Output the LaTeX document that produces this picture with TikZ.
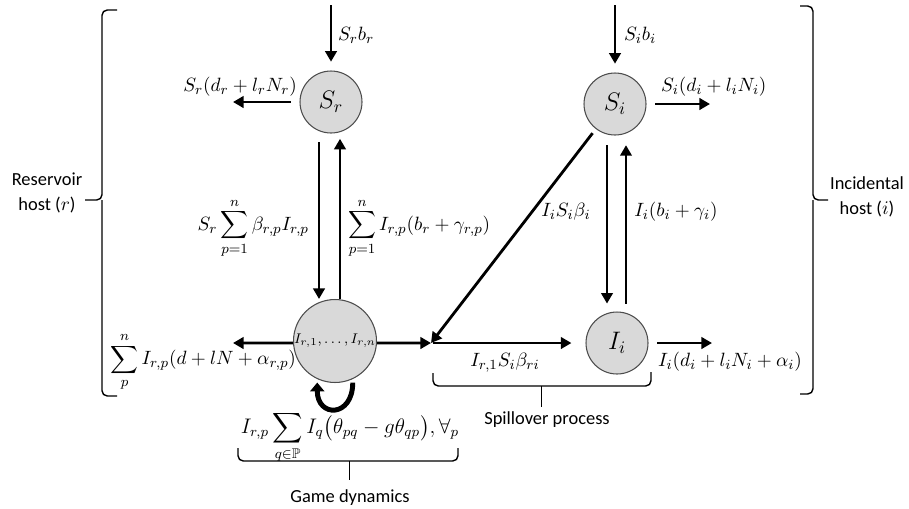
\documentclass[tikz,border=0pt]{standalone}
\usepackage{amsmath,amssymb}
\usepackage{fontspec}
\setmainfont{Carlito}
\usetikzlibrary{arrows.meta}

\begin{document}
\begin{tikzpicture}[
  x=0.02cm, y=-0.02cm,
  pop/.style={circle, draw=black!70, line width=0.6pt, fill=black!15,
              minimum size=1.24cm, inner sep=0pt, font=\Large},
  flow/.style={line width=1.6pt, -{Triangle[length=6pt, width=6.5pt]}},
  selfloop/.style={line width=2.8pt, -{Triangle[length=5pt, width=8pt]},
                   shorten <=2pt, shorten >=2pt},
  lbl/.style={font=\fontsize{11}{13}\selectfont, inner sep=1pt},
  txt/.style={font=\fontsize{10.5}{14}\selectfont, align=center, inner sep=1pt},
  bracket/.style={line width=0.8pt, rounded corners=3pt}
]
  \useasboundingbox (0,0) rectangle (909,508);

  % Compartments
  \foreach \n/\x/\y/\t in {sr/331/102/S_r, si/615/104/S_i, ii/617/343/I_i} {
    \node[pop] (\n) at (\x,\y) {$\t$};
  }
  \node[pop, minimum size=1.54cm, font=\footnotesize] (ir) at (335,341)
    {$I_{r,1},\dots,I_{r,n}$};
  \coordinate (mp) at (431,343);

  % Births
  \coordinate (srin) at (331,5);
  \coordinate (siin) at (615,5);
  \draw[flow, shorten >=5pt] (srin) -- (sr);
  \draw[flow, shorten >=5pt] (siin) -- (si);
  \node[lbl, anchor=west] (srbirth) at (336,35) {$S_r b_r$};
  \node[lbl, anchor=west] (sibirth) at (622,35) {$S_i b_i$};

  % Deaths
  \coordinate (srout) at (233,102);
  \coordinate (siout) at (710,104);
  \coordinate (irout) at (233,343);
  \coordinate (iiout) at (712,343);
  \draw[flow, shorten <=5pt] (sr) -- (srout);
  \draw[flow, shorten <=5pt] (si) -- (siout);
  \draw[flow] ([yshift=-0.04cm]ir.west) -- (irout);
  \draw[flow, shorten <=5pt] (ii) -- (iiout);
  \node[lbl, anchor=east] (srdeath) at (299,87) {$S_r(d_r + l_r N_r)$};
  \node[lbl, anchor=west] (sideath) at (659,87) {$S_i(d_i + l_i N_i)$};
  \node[lbl, anchor=east] (irdeath) at (298,362)
    {$\displaystyle\sum_{p}^{n} I_{r,p}(d + lN + \alpha_{r,p})$};
  \node[lbl, anchor=west] (iideath) at (656,362) {$I_i(d_i + l_i N_i + \alpha_i)$};

  % Reservoir host: infection and recovery
  \draw[flow, shorten <=5pt] ([xshift=-0.24cm]sr.south) -- ([xshift=-0.24cm]sr.south |- ir.north);
  \draw[flow, shorten >=3pt] ([xshift=0.18cm]sr.south |- ir.north) -- ([xshift=0.18cm]sr.south);
  \node[lbl, anchor=east] (srinf) at (311,228)
    {$S_r \displaystyle\sum_{p=1}^{n} \beta_{r,p} I_{r,p}$};
  \node[lbl, anchor=west] (srrec) at (346,228)
    {$\displaystyle\sum_{p=1}^{n} I_{r,p}(b_r + \gamma_{r,p})$};

  % Incidental host: infection and recovery
  \draw[flow, shorten <=5.5pt, shorten >=4.5pt] ([xshift=-0.2cm]ii.north |- si.south) -- ([xshift=-0.2cm]ii.north);
  \draw[flow, shorten <=4.5pt, shorten >=5.5pt] ([xshift=0.18cm]ii.north) -- ([xshift=0.18cm]ii.north |- si.south);
  \node[lbl] (siinf) at (566,212) {$I_i S_i \beta_i$};
  \node[lbl] (sirec) at (676,212) {$I_i(b_i + \gamma_i)$};

  % Spillover
  \draw[flow, shorten <=3pt] (si) -- (mp);
  \draw[flow] ([yshift=-0.04cm]ir.east) -- (mp);
  \draw[flow, shorten <=1pt, shorten >=8pt] (mp) -- (ii);
  \node[lbl] (spillrate) at (505,363) {$I_{r,1} S_i \beta_{ri}$};

  % Game dynamics
  \draw[selfloop] (ir.-65) to[out=-90, in=-90, looseness=2.8] (ir.-115);
  \node[lbl, font=\large, anchor=north] (gamerate) at (350,409)
    {$I_{r,p} \displaystyle\sum_{q\in\mathbb{P}} I_q\big(\theta_{pq} - g\theta_{qp}\big), \forall_p$};

  % Braces
  \draw[bracket] (117,10) -| (102,200) -- (85,200);
  \draw[bracket] (117,396) -| (102,200);
  \draw[bracket] (800,6) -| (813,200) -- (828,200);
  \draw[bracket] (800,394) -| (813,200);
  \draw[bracket] (238,448) |- (458,461) -- (458,448);
  \draw (349,461) -- (349,480);
  \draw[bracket] (433,373) |- (651,386) -- (651,372);
  \draw (541,386) -- (541,407);
  \node[txt] (resv) at (47,193) {Reservoir\\host ($r$)};
  \node[txt] (incid) at (867,197) {Incidental\\host ($i$)};
  \node[txt] (game) at (350,498) {Game dynamics};
  \node[txt] (spill) at (547,420) {Spillover process};
\end{tikzpicture}
\end{document}
